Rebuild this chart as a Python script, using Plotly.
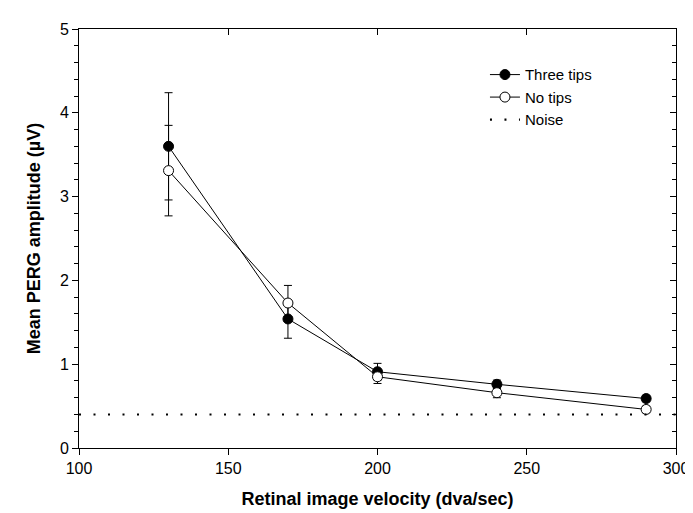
import plotly.graph_objects as go

velocity = [130, 170, 200, 240, 290]
three_tips = [3.60, 1.54, 0.91, 0.76, 0.59]
three_tips_err = [0.64, 0.23, 0.10, 0.05, 0.04]
no_tips = [3.31, 1.73, 0.85, 0.66, 0.46]
no_tips_err = [0.54, 0.21, 0.08, 0.06, 0.04]
noise_level = 0.4
x_range = [100, 300]
y_range = [0, 5]

FONT = "Arial, 'Liberation Sans', sans-serif"

fig = go.Figure()
fig.add_trace(go.Scatter(
    x=velocity, y=three_tips, name="Three tips", mode="lines+markers",
    line=dict(color="black", width=1),
    marker=dict(symbol="circle", size=10, color="black", line=dict(color="black", width=1)),
    error_y=dict(type="data", array=three_tips_err, color="black", thickness=1, width=4),
))
fig.add_trace(go.Scatter(
    x=velocity, y=no_tips, name="No tips", mode="lines+markers",
    line=dict(color="black", width=1),
    marker=dict(symbol="circle", size=10, color="white", line=dict(color="black", width=1)),
    error_y=dict(type="data", array=no_tips_err, color="black", thickness=1, width=4),
))
fig.add_trace(go.Scatter(
    x=x_range, y=[noise_level, noise_level], name="Noise", mode="lines",
    line=dict(color="black", width=2.2, dash="2px,12.5px"),
))

axis_common = dict(showline=True, linecolor="black", linewidth=1, showgrid=False,
                   zeroline=False, tickcolor="black", tickwidth=1,
                   tickfont=dict(family=FONT, size=16, color="black"))

fig.update_layout(
    width=693, height=513,
    margin=dict(l=71, r=22, t=21, b=73),
    paper_bgcolor="white", plot_bgcolor="white",
    font=dict(family=FONT, size=16, color="black"),
    showlegend=True,
    legend=dict(x=0.68, y=0.93, xanchor="left", yanchor="top",
                bgcolor="rgba(0,0,0,0)", font=dict(family=FONT, size=15, color="black"),
                tracegroupgap=0),
    xaxis=dict(range=x_range, tickmode="linear", tick0=100, dtick=50,
               ticks="outside", ticklen=6,
               title=dict(text="<b>Retinal image velocity (dva/sec)</b>",
                          font=dict(family=FONT, size=18, color="black"), standoff=16),
               **axis_common),
    yaxis=dict(range=y_range, tickmode="linear", tick0=0, dtick=1,
               ticks="outside", ticklen=6,
               minor=dict(ticks="outside", ticklen=4, dtick=0.2, tickcolor="black", showgrid=False),
               title=dict(text="<b>Mean PERG amplitude (µV)</b>",
                          font=dict(family=FONT, size=18, color="black"), standoff=14),
               **axis_common),
    xaxis2=dict(range=x_range, overlaying="x", side="top", tickmode="linear", tick0=100, dtick=50,
                ticks="inside", ticklen=6, showticklabels=False, showline=True,
                linecolor="black", linewidth=1, showgrid=False, zeroline=False, tickcolor="black"),
    yaxis2=dict(range=y_range, overlaying="y", side="right", tickmode="linear", tick0=0, dtick=1,
                ticks="inside", ticklen=6, showticklabels=False, showline=True,
                minor=dict(ticks="inside", ticklen=4, dtick=0.2, tickcolor="black", showgrid=False),
                linecolor="black", linewidth=1, showgrid=False, zeroline=False, tickcolor="black"),
)
# invisible trace to activate the mirrored axes
fig.add_trace(go.Scatter(x=[None], y=[None], xaxis="x2", yaxis="y2", showlegend=False,
                         hoverinfo="skip"))

fig.write_html("out.html")
